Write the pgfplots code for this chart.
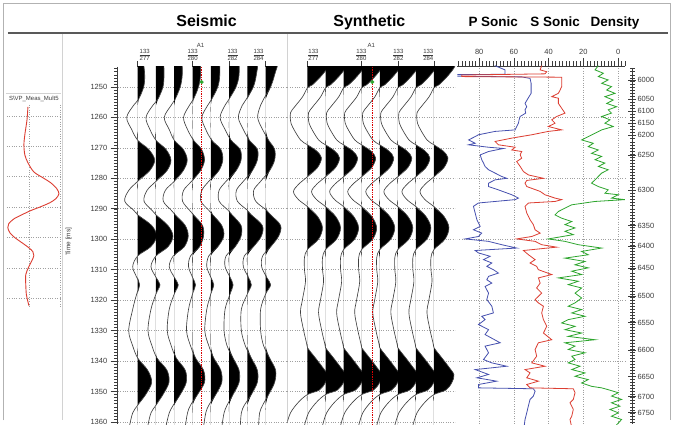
\documentclass[border=0pt]{standalone}
\usepackage{fontspec}
\setmainfont{Liberation Sans}
\usepackage{pgfplots}
\usepackage{pgfplotstable}
\pgfplotsset{compat=1.18}

\definecolor{pblue}{RGB}{70,80,175}
\definecolor{sred}{RGB}{220,62,50}
\definecolor{dgreen}{RGB}{45,165,45}
\definecolor{gridc}{RGB}{160,160,160}
\definecolor{wigc}{RGB}{65,65,65}
\definecolor{txt}{RGB}{60,60,60}

% Seismic traces 277..284 : amplitude in pixels (trace spacing = 18.3 px)
\pgfplotstableread{
t a1 a2 a3 a4 a5 a6 a7 a8
1236 0 0 0 0 0 0 0 0
1241 5 7 7 7 8 9 10 12
1246 7 8 8 8 9 10 9 9
1250 6 7 6 6 7 7 6 5
1254 1 2 1 1 1 0 -1 -2
1256 -4 -3 -3 -3 -3 -4 -5 -5
1260 -11 -10 -10 -9 -9 -9 -9 -8
1264 -6 -6 -5 -5 -5 -4 -4 -3
1267.5 0 0 0 1 1 2 2 3
1270.5 11 10 9 9 10 11 10 9
1274 17 15 13 12 12 12 10 9
1277.5 12 11 9 8 8 7 5 4
1281 0 0 0 -1 -2 -3 -4 -5
1284 -9 -9 -9 -9 -9 -10 -11 -12
1287.5 -13 -12 -11 -10 -10 -10 -10 -10
1290.5 -4 -4 -3 -3 -2 -1 0 1
1292 0 0 1 1 2 3 4 5
1295.5 14 12 11 10 11 12 15 15
1299 19 17 14 11 13 12 14 13
1302.5 13 12 10 7 7 6 6 5
1305.5 0 0 -1 -2 -2 -3 -3 -3
1309 -5 -5 -5 -4 -4 -4 -4 -4
1312.5 -1 0 0 0 0 1 1 1
1315 2 4 4 3 3 4 4 5
1318 -1 0 0 0 0 1 0 0
1323 -5 -5 -5 -4 -4 -4 -6 -5
1330 -9 -8 -7 -6 -6 -5 -6 -5
1335 -5 -4 -3 -2 -2 -2 -2 -2
1339 0 1 2 3 3 4 4 4
1343 10 11 11 11 10 10 10 10
1347 14 13 12 12 11 10 10 9
1351 8 7 6 5 5 4 4 3
1354.5 0 0 -1 -2 -2 -2 -3 -3
1357 -5 -5 -5 -5 -5 -5 -6 -6
1361 -8 -8 -8 -7 -7 -7 -7 -7
}\seis

% Synthetic trace (same on every trace), amplitude in pixels (spacing 18.1 px)
\pgfplotstableread{
t a
1236 0
1238.5 26
1241 24
1243.8 20
1246.7 13
1249.3 5
1250.3 0
1253.3 -5
1256.6 -13
1258.5 -17
1261 -17
1263.1 -15
1267.4 -7
1269 0
1271 9
1273.3 14
1276.5 10
1279.5 0
1282 -9
1284.4 -14
1287 -9
1289.3 0
1292.5 10
1296.2 15
1300 11
1303.4 0
1306 -3
1310 -3
1314 -2
1319.8 -5
1324.1 -7
1329.7 -4
1334 -1
1335.6 0
1339 8
1342 15
1344.5 20
1347 18
1349.5 12
1351 0
1353.5 -9
1357 -17
1361 -21
}\synt

% wavelet
\pgfplotstableread{
x y
-0.03 -32.95
-0.06 -28.7
-0.13 -23.8
-0.16 -20.5
-0.13 -17.2
-0.03 -14.6
0.16 -11.6
0.45 -9.7
0.71 -8.0
0.90 -6.1
0.97 -4.4
0.87 -2.8
0.68 -1.5
0.39 -0.2
0.06 1.1
-0.23 2.5
-0.48 3.8
-0.65 5.4
-0.68 6.7
-0.61 8.4
-0.45 10.0
-0.23 11.6
0.00 13.3
0.13 14.6
0.16 15.9
0.10 17.5
0.00 19.5
-0.10 22.1
-0.10 25.4
-0.08 28.7
-0.03 31.0
0.00 32.3
}\wavelet

% P sonic
\pgfplotstableread{
t v
1243.0 71
1244.4 65.1
1245.85 65.1
1245.96 93
1246.5 93
1246.7 55.5
1247.2 50.7
1248.8 50.1
1252.1 50.1
1253.2 51.3
1255.4 53.6
1256.5 52.6
1257.5 53.6
1258.6 53.2
1259.7 56.4
1260.8 57.0
1261.9 57.4
1263.0 58.4
1264.1 59.3
1264.6 70.8
1265.7 80.4
1266.3 82.3
1267.4 86.1
1268.5 82.3
1269.0 86.1
1269.8 74.6
1270.2 66.0
1271.2 74.6
1272.3 79.4
1273.9 78.5
1275.0 77.5
1276.1 76.6
1277.2 74.6
1278.3 70.8
1279.4 67.0
1280.0 64.1
1280.5 70.8
1281.6 74.6
1282.7 74.6
1283.8 68.9
1285.4 61.2
1286.5 57.4
1287.0 59.3
1287.6 70.8
1288.1 80.4
1289.2 83.3
1291.4 82.3
1293.6 81.3
1295.8 79.4
1296.9 83.3
1298.0 78.5
1299.1 80.4
1299.9 88.0
1300.7 74.6
1301.8 67.0
1302.9 58.4
1303.7 82.3
1304.5 80.4
1305.6 73.7
1306.7 77.5
1307.8 72.7
1308.9 75.6
1310.0 71.8
1311.1 68.9
1312.2 74.6
1313.3 75.6
1314.4 72.7
1315.5 76.6
1317.7 74.6
1319.8 75.6
1322.0 72.7
1324.2 71.8
1325.3 78.5
1326.4 76.6
1328.0 80.4
1329.7 74.6
1331.3 76.6
1334.0 67.9
1335.1 76.6
1337.3 74.6
1339.5 77.5
1340.6 72.7
1341.7 64.1
1342.8 82.3
1344.4 74.6
1345.5 81.3
1346.6 69.9
1347.7 80.4
1348.8 80.4
1349.1 48.8
1349.9 47.8
1351.5 48.8
1352.6 50.7
1354.8 51.7
1357.0 52.6
1359.2 53.6
1361.0 54.0
}\psonic

% S sonic
\pgfplotstableread{
t v
1243.0 44.0
1244.4 44.9
1245.0 41.1
1245.7 42.1
1246.1 90.0
1246.6 90.0
1246.8 32.5
1249.9 32.5
1251.0 33.4
1252.1 34.4
1253.2 38.2
1253.7 34.4
1255.4 34.4
1257.0 32.5
1258.6 30.6
1259.7 35.4
1260.8 38.2
1261.9 36.3
1263.0 40.2
1264.1 32.5
1264.6 40.2
1265.7 49.7
1266.8 61.2
1267.9 70.8
1269.0 68.9
1269.8 59.3
1270.7 61.2
1271.2 55.5
1272.3 56.4
1273.4 55.5
1274.5 58.4
1276.1 56.4
1277.8 54.5
1278.9 51.6
1280.0 43.0
1280.7 52.6
1281.6 53.6
1282.7 52.6
1284.3 44.9
1285.4 42.1
1286.5 36.3
1287.0 32.5
1287.6 36.3
1288.1 51.6
1289.2 53.6
1291.4 52.6
1293.6 50.7
1295.2 48.8
1296.9 47.8
1298.0 44.9
1299.1 49.7
1299.9 58.4
1300.7 47.8
1301.8 44.0
1302.6 35.4
1303.7 54.5
1305.1 51.6
1306.7 47.8
1307.8 50.7
1308.9 46.9
1310.0 45.9
1311.6 38.2
1312.7 45.9
1314.4 44.9
1316.0 46.9
1317.7 44.0
1319.8 47.8
1320.9 45.9
1322.0 43.0
1324.2 44.0
1326.4 43.0
1328.6 41.1
1330.8 43.0
1333.0 38.2
1334.0 45.9
1336.2 47.8
1338.4 46.9
1340.6 49.7
1341.7 42.1
1342.8 53.6
1343.9 50.7
1345.5 52.6
1346.6 45.9
1347.7 52.6
1348.8 50.7
1349.1 25.8
1350.4 24.8
1352.6 25.8
1353.7 27.7
1355.9 25.8
1358.1 26.7
1359.2 27.7
1361.0 27.0
}\ssonic

% Density
\pgfplotstableread{
t v
1243.0 11.4
1244.4 13.3
1245.5 8.5
1246.6 11.4
1247.7 5.7
1248.8 9.5
1249.9 3.8
1251.0 6.6
1252.1 1.8
1253.2 7.6
1254.3 2.8
1255.4 6.6
1256.5 0.9
1257.5 5.7
1258.6 3.8
1259.7 9.5
1260.8 4.7
1261.9 7.6
1263.0 2.8
1264.1 9.5
1265.2 13.3
1266.3 17.2
1267.4 21.0
1268.5 14.3
1269.6 17.2
1270.7 11.4
1271.8 15.3
1272.8 9.5
1273.9 13.3
1275.0 7.6
1276.1 11.4
1277.2 5.7
1278.3 9.5
1279.4 11.4
1280.5 13.3
1281.6 15.3
1282.7 11.4
1283.8 5.7
1284.9 7.6
1285.4 -0.1
1286.5 3.8
1287.0 -3.9
1287.6 13.3
1288.7 26.7
1289.8 30.6
1290.9 34.4
1292.0 36.3
1293.1 32.5
1294.2 26.7
1295.2 30.6
1296.3 24.8
1297.4 30.6
1298.5 25.8
1299.9 40.2
1300.7 30.6
1301.8 22.9
1302.9 9.5
1304.0 21.0
1305.1 17.2
1306.2 30.6
1307.3 19.1
1308.4 24.8
1309.4 17.2
1310.5 26.7
1311.6 21.0
1312.7 34.4
1313.8 22.9
1314.9 28.7
1316.0 21.0
1317.7 24.8
1319.3 21.0
1320.9 24.8
1322.0 28.7
1323.1 21.0
1324.2 26.7
1325.3 19.1
1326.4 28.7
1327.5 32.5
1328.6 24.8
1329.7 30.6
1330.8 21.0
1331.9 28.7
1333.0 13.3
1334.0 30.6
1335.1 24.8
1336.2 28.7
1337.3 19.1
1338.4 26.7
1339.5 24.8
1340.6 28.7
1341.7 21.9
1342.8 26.7
1343.9 19.1
1345.0 24.8
1346.1 17.2
1347.2 21.0
1348.3 15.3
1348.8 9.5
1349.4 5.7
1350.4 -0.1
1351.5 3.8
1352.6 -2.0
1353.7 3.8
1354.8 -1.0
1355.9 4.7
1357.0 -0.1
1358.1 3.8
1359.2 -2.0
1361.0 1.0
}\density

\pgfplotsset{panel/.style={scale only axis, anchor=north west, y dir=reverse,
  /pgf/number format/assume math mode=true, /pgf/number format/1000 sep={},
  ticklabel style={font=\fontsize{7.5}{8}\selectfont, text=txt},
  grid style={gridc, dotted, line width=0.6pt}}}

\begin{document}
\begin{tikzpicture}
\begin{scope}[x=1pt,y=1pt]
\fill[white] (0,0) rectangle (673,-421);
\useasboundingbox (0,0) rectangle (673,-421);
% frame and separators
\draw[gray!60, line width=0.8pt] (3,-421) -- (3,-3) -- (670,-3) -- (670,-421);
\draw[black!65, line width=2pt] (7,-33) -- (668,-33);
\draw[gray!35, line width=0.8pt] (62,-34) -- (62,-421);
\draw[gray!35, line width=0.8pt] (287,-34) -- (287,-421);
\draw[gray!35, line width=0.6pt] (5,-93) -- (60,-93);

% titles
\node[anchor=base, font=\fontsize{16}{18}\selectfont\bfseries] at (206,-27) {Seismic};
\node[anchor=base, font=\fontsize{16}{18}\selectfont\bfseries] at (369,-27) {Synthetic};
\node[anchor=base, font=\fontsize{13.5}{15}\selectfont\bfseries] at (493,-27) {P Sonic};
\node[anchor=base, font=\fontsize{13.5}{15}\selectfont\bfseries] at (555,-27) {S Sonic};
\node[anchor=base, font=\fontsize{13.5}{15}\selectfont\bfseries] at (615,-27) {Density};

% small labels
\node[font=\fontsize{6}{6}\selectfont, text=txt] at (33,-99.5) {S\textbackslash VP\_Meas\_Mult5};
\node[font=\fontsize{6.5}{7}\selectfont, text=txt, rotate=90] at (68,-242) {Time [ms]};
\foreach \x/\n in {144/277,192/280,232/282,258/284,313/277,361/280,398/282,428/284}
  \node[font=\fontsize{6}{6.5}\selectfont, text=txt, align=center, inner sep=0pt] at (\x,-55) {\underline{133}\\\n};
\foreach \x in {137,192,228.5,265,307,361.3,397.5,433.7}
  \draw[txt, line width=0.5pt] (\x,-61.5) -- (\x,-67);
\node[font=\fontsize{6}{6}\selectfont, text=txt] at (200,-45) {A1};
\node[font=\fontsize{6}{6}\selectfont, text=txt] at (371,-45) {A1};
\end{scope}

% wavelet panel
\begin{axis}[panel, at={(6pt,-105pt)}, width=54pt, height=203pt,
  xmin=-0.71, xmax=1.03, ymin=-33.6, ymax=32.95,
  axis line style={draw=none}, tick style={draw=none},
  xtick={0,1}, ytick={-30,-20,...,30}, xticklabels={}, yticklabels={},
  grid=major]
\addplot[sred, line width=0.9pt, smooth] table[x=x, y=y] {\wavelet};
\end{axis}

% seismic panel
\begin{axis}[panel, at={(117pt,-67pt)}, width=170pt, height=358pt,
  xmin=275.907, xmax=285.197, ymin=1243.44, ymax=1360.82,
  axis lines*=left, x axis line style={draw=none}, xtick=\empty,
  y axis line style={txt, line width=0.6pt},
  ytick={1250,1260,...,1360}, minor ytick={1244,1245,...,1360},
  tick align=outside, major tick length=7pt, minor tick length=3.5pt,
  major tick style={txt, line width=0.5pt}, minor tick style={txt, line width=0.4pt},
  ymajorgrids]
\pgfplotsinvokeforeach{1,...,8}{
  \addplot[fill=black, draw=none, smooth, tension=0.55] table[x expr={276+#1+max(\thisrow{a#1},0)/18.3}, y=t] {\seis};
  \addplot[wigc, line width=0.65pt, smooth, tension=0.55] table[x expr={276+#1+\thisrow{a#1}/18.3}, y=t] {\seis};
}
\addplot[red!85!black, densely dotted, line width=1.4pt] coordinates {(280.5,1243.44) (280.5,1362)};
\addplot[only marks, mark=*, mark size=1.8pt, dgreen] coordinates {(280.5,1248.4)};
\end{axis}

% synthetic panel
\begin{axis}[panel, at={(287pt,-67pt)}, width=168pt, height=358pt,
  xmin=275.895, xmax=285.18, ymin=1243.44, ymax=1360.82,
  axis line style={draw=none}, xtick=\empty,
  ytick={1250,1260,...,1360}, yticklabels={}, ytick style={draw=none},
  ymajorgrids]
\pgfplotsinvokeforeach{277,...,284}{
  \addplot[fill=black, draw=none, smooth, tension=0.55] table[x expr={#1+max(\thisrow{a},0)/18.1}, y=t] {\synt};
  \addplot[wigc, line width=0.65pt, smooth, tension=0.55] table[x expr={#1+\thisrow{a}/18.1}, y=t] {\synt};
}
\addplot[red!85!black, densely dotted, line width=1.4pt] coordinates {(280.59,1243.44) (280.59,1362)};
\addplot[only marks, mark=*, mark size=1.8pt, dgreen] coordinates {(280.59,1248.4)};
\end{axis}

% logs panel
\begin{axis}[panel, at={(457pt,-66pt)}, width=168pt, height=359pt,
  x dir=reverse, xmin=-4, xmax=92.6, ymin=1243.1, ymax=1360.82,
  axis x line*=top, axis y line*=left,
  x axis line style={txt, line width=0.6pt}, y axis line style={draw=none},
  xtick={0,20,40,60,80}, minor xtick={-4,-2,...,92},
  tick align=outside, major tick length=8pt, minor tick length=4.5pt,
  major tick style={txt, line width=0.5pt}, minor tick style={txt, line width=0.4pt},
  ytick={1260,1280,...,1340}, yticklabels={}, ytick style={draw=none},
  xmajorgrids, ymajorgrids]
\addplot[pblue, line width=0.8pt] table[x=v, y=t] {\psonic};
\addplot[sred, line width=0.8pt] table[x=v, y=t] {\ssonic};
\addplot[dgreen, line width=0.8pt] table[x=v, y=t] {\density};
\end{axis}

% depth axis
\begin{axis}[panel, at={(631pt,-68pt)}, width=1pt, height=357pt,
  xmin=0, xmax=1, ymin=1243.77, ymax=1360.82,
  axis y line*=right, axis x line=none, xtick=\empty,
  y axis line style={txt, line width=0.6pt},
  ytick={1247.70,1253.93,1258.03,1261.97,1265.74,1272.30,1283.77,1295.57,1302.30,1309.51,1318.69,1327.38,1336.39,1345.08,1351.64,1356.89},
  yticklabels={6000,6050,6100,6150,6200,6250,6300,6350,6400,6450,6500,6550,6600,6650,6700,6750},
  minor ytick={1244,1245,...,1360},
  tick align=center, major tick length=8pt, minor tick length=5pt,
  major tick style={txt, line width=0.5pt}, minor tick style={txt, line width=0.4pt},
  yticklabel style={xshift=-2pt}]
\addplot[draw=none] coordinates {(0,1250) (1,1300)};
\end{axis}
\end{tikzpicture}
\end{document}
